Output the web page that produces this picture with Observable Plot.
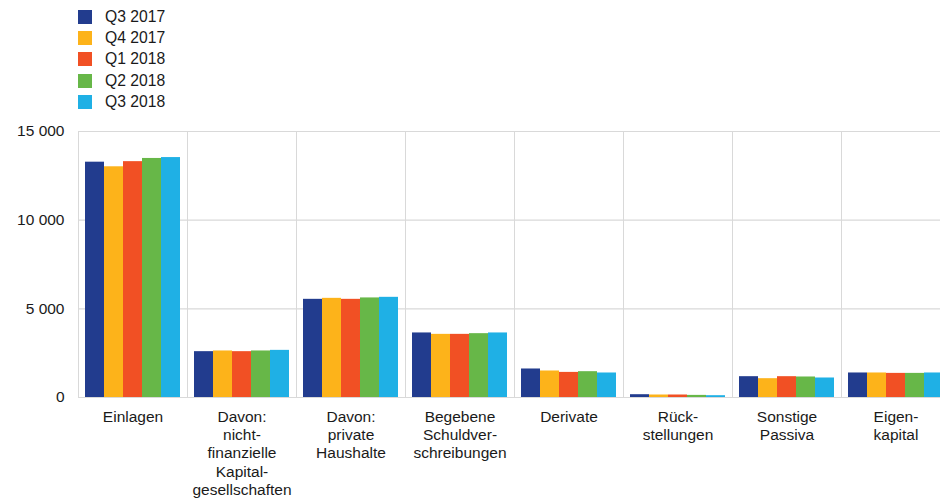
<!DOCTYPE html>
<html>
<head>
<meta charset="utf-8">
<script src="https://cdn.jsdelivr.net/npm/d3@7"></script>
<script src="https://cdn.jsdelivr.net/npm/@observablehq/plot@0.6"></script>
<style>
  html, body { margin: 0; padding: 0; background: #fff; }
  body { width: 940px; height: 499px; overflow: hidden; font-family: "Liberation Sans", Arial, sans-serif; color: #1a1a1a; }
  #legend { height: 120px; box-sizing: border-box; padding: 6.4px 0 0 78px; }
  .item { display: flex; align-items: center; height: 21.2px; font-size: 15.7px; }
  .swatch { width: 14px; height: 14px; margin-right: 13px; flex: none; }
  #chart svg { display: block; }
</style>
</head>
<body>
<div id="legend"></div>
<div id="chart"></div>
<script>
// Quarters shown as series, with their fill colours
const quarters = ["Q3 2017", "Q4 2017", "Q1 2018", "Q2 2018", "Q3 2018"];
const colors = ["#223c8e", "#fdb31a", "#f15024", "#67b748", "#1fb0e5"];

// Balance sheet items on the horizontal axis (line breaks as printed)
const categories = [
  "Einlagen",
  "Davon:\nnicht-\nfinanzielle\nKapital-\ngesellschaften",
  "Davon:\nprivate\nHaushalte",
  "Begebene\nSchuldver-\nschreibungen",
  "Derivate",
  "Rück-\nstellungen",
  "Sonstige\nPassiva",
  "Eigen-\nkapital"
];

// Values per quarter, one entry per balance sheet item
const q3_2017 = [13270, 2585, 5536, 3640, 1608, 158, 1174, 1383];
const q4_2017 = [13010, 2624, 5592, 3561, 1495, 141, 1061, 1383];
const q1_2018 = [13300, 2585, 5536, 3561, 1416, 141, 1174, 1360];
const q2_2018 = [13480, 2624, 5615, 3600, 1456, 119, 1157, 1360];
const q3_2018 = [13530, 2658, 5649, 3640, 1382, 102, 1100, 1383];

// Y axis ticks
const yTicks = [0, 5000, 10000, 15000];

const series = [q3_2017, q4_2017, q1_2018, q2_2018, q3_2018];
const data = [];
categories.forEach((cat, i) => {
  quarters.forEach((q, j) => {
    data.push({cat, q, value: series[j][i]});
  });
});

// Legend
const legend = document.getElementById("legend");
quarters.forEach((q, j) => {
  const row = document.createElement("div");
  row.className = "item";
  const sw = document.createElement("span");
  sw.className = "swatch";
  sw.style.background = colors[j];
  const label = document.createElement("span");
  label.textContent = q;
  row.append(sw, label);
  legend.append(row);
});

const fmt = d => d3.format(",")(d).replace(/,/g, " ");

const chart = Plot.plot({
  width: 940,
  height: 379,
  marginTop: 11,
  marginBottom: 102,
  marginLeft: 78,
  marginRight: -10,
  style: {
    fontFamily: '"Liberation Sans", Arial, sans-serif',
    fontSize: "15.5px",
    color: "#1a1a1a",
    background: "transparent"
  },
  fx: {domain: categories, padding: 0, label: null},
  x: {domain: quarters, paddingInner: 0, paddingOuter: 0.24, axis: null},
  y: {domain: [0, 15000], label: null, axis: null},
  color: {domain: quarters, range: colors},
  marks: [
    Plot.frame({stroke: "#d9d9d9", strokeWidth: 1}),
    Plot.gridY({ticks: [5000, 10000], stroke: "#d9d9d9", strokeOpacity: 1, strokeWidth: 1.2}),
    Plot.barY(data, {fx: "cat", x: "q", y: "value", fill: "q"}),
    Plot.axisY({ticks: yTicks, tickFormat: fmt, tickSize: 0, tickPadding: 14, fontSize: 15.5, label: null}),
    Plot.axisFx({anchor: "bottom", tickSize: 0, tickPadding: 11, lineHeight: 1.19, fontSize: 15.5, label: null})
  ]
});

document.getElementById("chart").append(chart);
</script>
</body>
</html>
